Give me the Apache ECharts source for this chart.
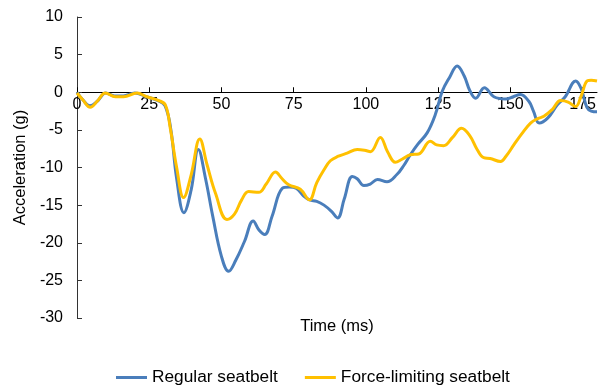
<!DOCTYPE html>
<html>
<head>
<meta charset="utf-8">
<script src="https://cdn.jsdelivr.net/npm/echarts@6/dist/echarts.min.js"></script>
<style>html,body{margin:0;padding:0;background:#fff}#c{width:603px;height:387px}</style>
</head>
<body>
<div id="c"></div>
<script>
const xTickValues = [0, 25, 50, 75, 100, 125, 150, 175];
const yTickValues = [-30, -25, -20, -15, -10, -5, 0, 5, 10];

const timeRegular = [0, 2, 4.5, 7, 10, 13, 16, 20, 24, 28, 30.5, 32.5, 34.5, 37, 39.5, 42, 44.5, 47, 50, 52.5, 55, 58, 61, 63, 65, 67.5, 71, 73.5, 76, 78.5, 80.5, 83, 85.5, 88, 90.2, 92.5, 95.3, 97, 99.3, 101.5, 104, 107.3, 110.8, 113, 115.4, 118, 121.2, 124, 126.4, 129, 131.6, 134, 136, 138, 141, 144.3, 148.3, 151, 153.5, 156.4, 158, 160, 163, 166.2, 169, 172.6, 174.5, 176.5, 178, 180];
const regular = [0, -1, -1.8, -1.2, -0.1, -0.5, -0.5, -0.1, -0.6, -1.1, -1.8, -5, -11.5, -16, -13, -7.6, -11.5, -16.5, -21.8, -23.8, -22.3, -19.8, -17.1, -18.3, -18.9, -16.5, -12.8, -12.6, -12.8, -13.8, -14.3, -14.5, -15, -15.8, -16.7, -14.2, -11.2, -11.5, -12.4, -12.2, -11.6, -11.9, -10.9, -9.8, -8.3, -6.9, -5.4, -3.0, 0.1, 2.0, 3.5, 2.2, 0.2, -0.8, 0.6, -0.6, -0.9, -0.6, -0.3, -1.2, -2.5, -4.1, -3.4, -1.7, -0.6, 1.5, 0.5, -2.0, -2.5, -2.6];

const timeForce = [0, 2, 4.6, 7, 9.8, 13.3, 16.1, 20.8, 24.2, 28.3, 30.6, 32.3, 34.5, 36.9, 39.5, 42.5, 45, 48, 51.9, 54.5, 57, 59.4, 62.9, 65.5, 68.7, 71, 73.3, 77.3, 80.4, 83, 85.5, 87.7, 90.5, 93.5, 97, 99.5, 101.6, 105, 107.5, 110.2, 112.5, 115.4, 118.3, 122.3, 124.5, 126.9, 130, 133.1, 136, 138.5, 140.8, 143, 146.6, 148.5, 151.2, 154, 157, 159.5, 161.6, 164.5, 167.4, 170, 172.6, 174.5, 176.6, 178, 180];
const force = [-0.1, -1.0, -2.0, -1.2, -0.1, -0.6, -0.6, -0.1, -0.6, -1.1, -1.7, -4.8, -10, -14.0, -11, -6.2, -9.6, -13.5, -16.9, -16.2, -14.3, -13.2, -13.3, -12.2, -10.6, -11.5, -12.3, -12.9, -14.3, -12, -10.3, -9.1, -8.5, -8.1, -7.6, -7.7, -7.9, -6.0, -7.9, -9.3, -8.9, -8.3, -8.2, -6.5, -7.0, -7.1, -6.0, -4.8, -5.8, -7.6, -8.7, -8.8, -9.2, -8.5, -7.0, -5.5, -4.1, -3.5, -3.2, -2.3, -1.1, -1.3, -1.9, -0.5, 1.5, 1.6, 1.5];

const seriesNames = ['Regular seatbelt', 'Force-limiting seatbelt'];
const xAxisTitle = 'Time (ms)';
const yAxisTitle = 'Acceleration (g)';
const colors = ['#4A7EBB', '#FFC000'];

const zip = (t, v) => t.map((x, i) => [x, v[i]]);
const FONT = 'Liberation Sans, Arial, sans-serif';

const chart = echarts.init(document.getElementById('c'), null, {renderer: 'canvas'});
chart.setOption({
  animation: false,
  backgroundColor: '#fff',
  color: colors,
  grid: {left: 77, right: 6, top: 17, bottom: 69, containLabel: false},
  legend: {
    data: seriesNames,
    left: 111, top: 364,
    icon: 'rect', itemWidth: 31, itemHeight: 3, itemGap: 27,
    textStyle: {fontFamily: FONT, fontSize: 17.3, color: '#000'}
  },
  graphic: [{
    type: 'text', x: 337, y: 318,
    style: {text: xAxisTitle, fontFamily: FONT, fontSize: 16.5, fill: '#000', align: 'center', verticalAlign: 'top'}
  }],
  xAxis: {
    type: 'value', min: 0, max: 180, position: 'bottom',
    axisLine: {onZero: false, lineStyle: {color: '#000', width: 1}},
    axisTick: {show: true, inside: true, length: 5, customValues: xTickValues, lineStyle: {color: '#000'}},
    axisLabel: {customValues: xTickValues, fontFamily: FONT, fontSize: 16, color: '#000', margin: 4},
    splitLine: {show: false}
  },
  yAxis: {
    type: 'value', min: -30, max: 10, interval: 5,
    axisLine: {show: true, onZero: false, lineStyle: {color: '#333', width: 1}},
    axisTick: {show: true, inside: true, length: 5, customValues: yTickValues, lineStyle: {color: '#333'}},
    axisLabel: {customValues: yTickValues, fontFamily: FONT, fontSize: 16, color: '#000', margin: 14},
    splitLine: {show: false},
    name: yAxisTitle, nameLocation: 'middle', nameGap: 43,
    nameTextStyle: {fontFamily: FONT, fontSize: 16.5, color: '#000'}
  },
  series: [{
    name: seriesNames[0], type: 'line', data: zip(timeRegular, regular),
    smooth: 0.4, symbol: 'none', lineStyle: {width: 3, color: colors[0]}, z: 2
  }, {
    name: seriesNames[1], type: 'line', data: zip(timeForce, force),
    smooth: 0.4, symbol: 'none', lineStyle: {width: 3, color: colors[1]}, z: 3
  }]
});
// Move the x axis (line, ticks, labels) up to y = 0 using the y axis scale
const zeroY = chart.convertToPixel({yAxisIndex: 0}, 0);
const bottomY = chart.convertToPixel({yAxisIndex: 0}, -30);
chart.setOption({xAxis: {offset: zeroY - bottomY}});
</script>
</body>
</html>
